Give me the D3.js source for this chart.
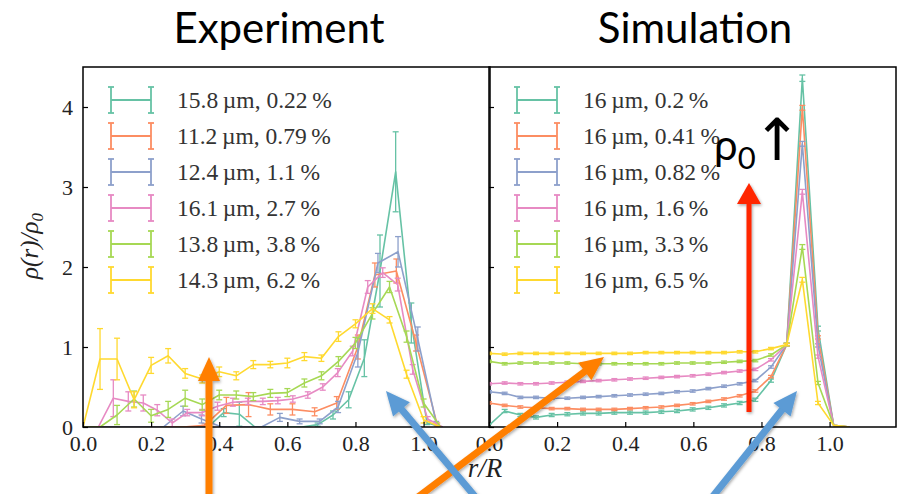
<!DOCTYPE html>
<html><head><meta charset="utf-8">
<script src="https://cdn.jsdelivr.net/npm/d3@7"></script>
<style>body{margin:0;background:#fff;} svg{display:block;}
.tnr{font-family:"Liberation Serif","Times New Roman",serif;}
</style>
</head><body>
<svg id="chart" width="899" height="494"></svg>
<script>
// Set2 colours, one per sample
const seriesColors = ["#66c2a5", "#fc8d62", "#8da0cb", "#e78ac3", "#a6d854", "#ffd92f"];

const expLabels = ["15.8\u2009µm, 0.22\u2009%", "11.2\u2009µm, 0.79\u2009%", "12.4\u2009µm, 1.1\u2009%",
                   "16.1\u2009µm, 2.7\u2009%", "13.8\u2009µm, 3.8\u2009%", "14.3\u2009µm, 6.2\u2009%"];
const simLabels = ["16\u2009µm, 0.2\u2009%", "16\u2009µm, 0.41\u2009%", "16\u2009µm, 0.82\u2009%",
                   "16\u2009µm, 1.6\u2009%", "16\u2009µm, 3.3\u2009%", "16\u2009µm, 6.5\u2009%"];
const xTicks = [0.0, 0.2, 0.4, 0.6, 0.8, 1.0];
const yTicks = [0, 1, 2, 3, 4];

// ---- Experiment: radial density profiles rho(r)/rho0 with error bars ----
const expTealR = [0, 0.046, 0.092, 0.138, 0.184, 0.23, 0.275, 0.321, 0.367, 0.413, 0.459, 0.505, 0.551, 0.597, 0.643, 0.689, 0.734, 0.78, 0.826, 0.872, 0.918, 0.964, 1.01, 1.056];
const expTealV = [0, 0, 0, 0, 0, 0, 0, 0, 0, 0.18, 0.16, 0, 0, 0, 0, 0.03, 0.15, 0.34, 0.86, 1.95, 3.19, 1.3, 0.05, 0];
const expTealE = [0, 0, 0, 0, 0, 0, 0, 0, 0, 0.05, 0.15, 0, 0, 0, 0, 0.02, 0.05, 0.1, 0.23, 0.45, 0.5, 0.25, 0.02, 0];

const expOrangeR = [0, 0.1, 0.165, 0.23, 0.295, 0.357, 0.421, 0.486, 0.55, 0.615, 0.68, 0.745, 0.807, 0.857, 0.92, 0.978, 1.04];
const expOrangeV = [0, 0, 0, 0, 0, 0.02, 0.27, 0.28, 0.22, 0.22, 0.19, 0.3, 1.0, 1.9, 1.95, 1.05, 0.03];
const expOrangeE = [0, 0, 0, 0, 0, 0.02, 0.1, 0.15, 0.07, 0.07, 0.05, 0.08, 0.15, 0.15, 0.15, 0.1, 0.02];

const expBlueR = [0, 0.059, 0.118, 0.177, 0.236, 0.294, 0.348, 0.407, 0.465, 0.524, 0.578, 0.636, 0.695, 0.749, 0.807, 0.866, 0.925, 0.983, 1.037];
const expBlueV = [0, 0, 0, 0, 0, 0.2, 0.1, 0, 0, 0, 0.12, 0.07, 0.07, 0.25, 0.93, 2.05, 2.19, 1.1, 0.05];
const expBlueE = [0, 0, 0, 0, 0, 0.06, 0.05, 0, 0, 0, 0.05, 0.03, 0.03, 0.07, 0.18, 0.12, 0.19, 0.15, 0.02];

const expPinkR = [0, 0.045, 0.089, 0.133, 0.177, 0.218, 0.262, 0.306, 0.35, 0.395, 0.44, 0.484, 0.528, 0.572, 0.616, 0.66, 0.704, 0.748, 0.792, 0.836, 0.88, 0.924, 0.968, 1.012, 1.056];
const expPinkV = [0, 0, 0.36, 0.32, 0.3, 0.21, 0.05, 0.18, 0.18, 0.26, 0.31, 0.32, 0.32, 0.33, 0.35, 0.4, 0.5, 0.68, 0.95, 1.75, 1.93, 1.78, 0.72, 0.1, 0];
const expPinkE = [0, 0, 0.23, 0.12, 0.1, 0.07, 0.05, 0.04, 0.04, 0.05, 0.05, 0.04, 0.04, 0.04, 0.04, 0.04, 0.04, 0.05, 0.06, 0.08, 0.06, 0.08, 0.06, 0.03, 0];

const expGreenR = [0, 0.05, 0.10, 0.15, 0.20, 0.25, 0.30, 0.35, 0.40, 0.45, 0.50, 0.55, 0.60, 0.65, 0.70, 0.75, 0.80, 0.85, 0.90, 0.95, 1.00, 1.05];
const expGreenV = [0, 0, 0.15, 0.35, 0.14, 0.22, 0.36, 0.28, 0.4, 0.4, 0.38, 0.42, 0.43, 0.55, 0.64, 0.82, 1.05, 1.42, 1.75, 1.13, 0.3, 0];
const expGreenE = [0, 0, 0.12, 0.1, 0.08, 0.1, 0.1, 0.07, 0.06, 0.05, 0.05, 0.05, 0.05, 0.05, 0.05, 0.06, 0.07, 0.07, 0.07, 0.07, 0.05, 0];

const expYellowR = [0, 0.05, 0.10, 0.15, 0.20, 0.25, 0.30, 0.35, 0.40, 0.45, 0.50, 0.55, 0.60, 0.65, 0.70, 0.75, 0.80, 0.85, 0.90, 0.95, 1.00, 1.05];
const expYellowV = [0, 0.85, 0.85, 0.34, 0.77, 0.89, 0.67, 0.6, 0.69, 0.64, 0.78, 0.78, 0.8, 0.88, 0.86, 1.13, 1.29, 1.48, 1.34, 0.66, 0.09, 0];
const expYellowE = [0, 0.38, 0.26, 0.1, 0.1, 0.09, 0.06, 0.05, 0.06, 0.05, 0.05, 0.04, 0.06, 0.05, 0.04, 0.06, 0.05, 0.06, 0.04, 0.05, 0.04, 0];

// ---- Simulation: same radial bins for every run ----
const simR = [0, 0.046, 0.092, 0.138, 0.184, 0.23, 0.276, 0.322, 0.368, 0.414, 0.46, 0.506, 0.552, 0.598, 0.644, 0.69, 0.736, 0.782, 0.828, 0.874, 0.92, 0.966, 1.012, 1.058];
const simTealV   = [0.02, 0.2, 0.15, 0.12, 0.15, 0.16, 0.17, 0.17, 0.18, 0.18, 0.18, 0.19, 0.2, 0.22, 0.24, 0.27, 0.3, 0.34, 0.58, 1.03, 4.36, 1.23, 0.02, 0];
const simOrangeV = [0.3, 0.27, 0.25, 0.24, 0.23, 0.23, 0.22, 0.22, 0.22, 0.23, 0.24, 0.25, 0.27, 0.29, 0.32, 0.35, 0.39, 0.45, 0.63, 1.03, 3.99, 1.12, 0.02, 0];
const simBlueV   = [0.44, 0.42, 0.37, 0.37, 0.36, 0.36, 0.37, 0.38, 0.39, 0.4, 0.41, 0.42, 0.44, 0.45, 0.48, 0.51, 0.54, 0.58, 0.75, 1.03, 3.54, 1.02, 0.02, 0];
const simPinkV   = [0.54, 0.55, 0.54, 0.54, 0.55, 0.56, 0.57, 0.58, 0.59, 0.6, 0.61, 0.62, 0.63, 0.64, 0.66, 0.68, 0.7, 0.72, 0.84, 1.03, 2.94, 0.88, 0.02, 0];
const simGreenV  = [0.82, 0.79, 0.8, 0.8, 0.8, 0.8, 0.79, 0.79, 0.79, 0.79, 0.79, 0.79, 0.8, 0.8, 0.8, 0.81, 0.82, 0.83, 0.9, 1.03, 2.25, 0.55, 0.02, 0];
const simYellowV = [0.92, 0.91, 0.92, 0.92, 0.92, 0.92, 0.92, 0.92, 0.92, 0.92, 0.93, 0.93, 0.93, 0.93, 0.93, 0.93, 0.94, 0.94, 0.98, 1.03, 1.84, 0.3, 0.02, 0];
const simTealE   = [0.02, 0.02, 0.02, 0.02, 0.02, 0.02, 0.02, 0.02, 0.02, 0.02, 0.02, 0.02, 0.02, 0.02, 0.02, 0.02, 0.02, 0.02, 0.02, 0.02, 0.04, 0.03, 0, 0];
const simOtherE  = [0.015, 0.015, 0.015, 0.015, 0.015, 0.015, 0.015, 0.015, 0.015, 0.015, 0.015, 0.015, 0.015, 0.015, 0.015, 0.015, 0.015, 0.015, 0.015, 0.015, 0.03, 0.02, 0, 0];

const expSeries = [
  {r: expTealR, v: expTealV, e: expTealE},
  {r: expOrangeR, v: expOrangeV, e: expOrangeE},
  {r: expBlueR, v: expBlueV, e: expBlueE},
  {r: expPinkR, v: expPinkV, e: expPinkE},
  {r: expGreenR, v: expGreenV, e: expGreenE},
  {r: expYellowR, v: expYellowV, e: expYellowE}
];
const simSeries = [
  {r: simR, v: simTealV, e: simTealE},
  {r: simR, v: simOrangeV, e: simOtherE},
  {r: simR, v: simBlueV, e: simOtherE},
  {r: simR, v: simPinkV, e: simOtherE},
  {r: simR, v: simGreenV, e: simOtherE},
  {r: simR, v: simYellowV, e: simOtherE}
];

const svg = d3.select("#chart");
const plotTop = 67, plotBottom = 427, pw = 407;
const y = d3.scaleLinear().domain([0, 4.5]).range([plotBottom, plotTop]);

const defs = svg.append("defs");
const shadow = defs.append("filter").attr("id", "shadow")
  .attr("x", "-50%").attr("y", "-50%").attr("width", "200%").attr("height", "200%");
shadow.append("feDropShadow").attr("dx", 1).attr("dy", 1.5).attr("stdDeviation", 1.6)
  .attr("flood-color", "#000").attr("flood-opacity", 0.35);

const panels = [
  {x0: 83, series: expSeries, labels: expLabels, title: "Experiment", titleX: 279, yLabels: true},
  {x0: 489, series: simSeries, labels: simLabels, title: "Simulation", titleX: 695, yLabels: false}
];

panels.forEach((p, pi) => {
  const x = d3.scaleLinear().domain([0, 1.195]).range([p.x0, p.x0 + pw]);
  const clipId = "clip" + pi;
  defs.append("clipPath").attr("id", clipId).append("rect")
    .attr("x", p.x0).attr("y", plotTop).attr("width", pw).attr("height", plotBottom - plotTop);

  const g = svg.append("g").attr("clip-path", `url(#${clipId})`);
  p.series.forEach((s, k) => {
    const pts = s.r.map((r, i) => ({r, v: s.v[i], e: s.e[i]}));
    const sg = g.append("g").attr("stroke", seriesColors[k]).attr("fill", "none")
      .attr("stroke-width", 1.6);
    sg.append("path").attr("d", d3.line().x(d => x(d.r)).y(d => y(d.v))(pts))
      .attr("stroke-linejoin", "round");
    const eb = pts.filter(d => d.e > 0);
    sg.selectAll("line.bar").data(eb).join("line").attr("class", "bar")
      .attr("x1", d => x(d.r)).attr("x2", d => x(d.r))
      .attr("y1", d => y(d.v - d.e)).attr("y2", d => y(d.v + d.e)).attr("stroke-width", 1.3);
    ["lo", "hi"].forEach(side => {
      sg.selectAll("line.cap" + side).data(eb).join("line").attr("class", "cap" + side)
        .attr("x1", d => x(d.r) - 3).attr("x2", d => x(d.r) + 3)
        .attr("y1", d => y(side === "lo" ? d.v - d.e : d.v + d.e))
        .attr("y2", d => y(side === "lo" ? d.v - d.e : d.v + d.e))
        .attr("stroke-width", 1.3);
    });
  });

  // axes with inward ticks
  const xa = svg.append("g").attr("transform", `translate(0,${plotBottom})`)
    .call(d3.axisBottom(x).tickValues(xTicks).tickFormat(d3.format(".1f")).tickSize(-5).tickPadding(8));
  const ya = svg.append("g").attr("transform", `translate(${p.x0},0)`)
    .call(d3.axisLeft(y).tickValues(yTicks).tickFormat(p.yLabels ? d3.format("d") : () => "").tickSize(-5).tickPadding(10));
  [xa, ya].forEach(a => {
    a.attr("font-family", null).attr("font-size", null);
    a.select(".domain").remove();
    a.selectAll(".tick line").attr("stroke", "#000").attr("stroke-width", 1.2);
    a.selectAll(".tick text").attr("class", "tnr").style("font-size", "22px").attr("fill", "#222");
  });

  svg.append("rect").attr("x", p.x0).attr("y", plotTop).attr("width", pw).attr("height", plotBottom - plotTop)
    .attr("fill", "none").attr("stroke", "#000").attr("stroke-width", 1.5);

  // legend
  const lg = svg.append("g");
  p.labels.forEach((lab, k) => {
    const ly = 100 + k * 36;
    const hx0 = p.x0 + 28, hx1 = p.x0 + 68;
    const hg = lg.append("g").attr("stroke", seriesColors[k]).attr("stroke-width", 1.8);
    hg.append("line").attr("x1", hx0).attr("x2", hx1).attr("y1", ly).attr("y2", ly);
    [hx0, hx1].forEach(hx => {
      hg.append("line").attr("x1", hx).attr("x2", hx).attr("y1", ly - 13).attr("y2", ly + 13);
      hg.append("line").attr("x1", hx - 3).attr("x2", hx + 3).attr("y1", ly - 13).attr("y2", ly - 13);
      hg.append("line").attr("x1", hx - 3).attr("x2", hx + 3).attr("y1", ly + 13).attr("y2", ly + 13);
    });
    lg.append("text").attr("class", "tnr").attr("x", p.x0 + 94).attr("y", ly + 8)
      .style("font-size", "23.5px").attr("fill", "#333").text(lab);
  });

  svg.append("text").attr("x", p.titleX).attr("y", 43).attr("text-anchor", "middle")
    .style("font-family", "Lato, 'Open Sans', sans-serif").style("font-size", "42px").attr("fill", "#000")
    .text(p.title);
});

// axis titles
svg.append("text").attr("class", "tnr").attr("transform", "translate(38,246) rotate(-90)").attr("text-anchor", "middle")
  .style("font-size", "25px").style("font-style", "italic").attr("fill", "#222")
  .text("ρ(r)/ρ").append("tspan").style("font-size", "17px").attr("dy", 5).text("0");
svg.append("text").attr("class", "tnr").attr("x", 485).attr("y", 477).attr("text-anchor", "middle")
  .style("font-size", "27px").style("font-style", "italic").attr("fill", "#222")
  .text("r/R");

// annotation arrows
const arrows = [
  {x1: 209, y1: 500, x2: 209, y2: 357, color: "#ff7f00", w: 7, hw: 22, hl: 24},
  {x1: 414, y1: 500, x2: 604, y2: 357, color: "#ff7f00", w: 7, hw: 22, hl: 24},
  {x1: 478, y1: 500, x2: 386, y2: 391, color: "#5b9bd5", w: 7, hw: 22, hl: 24},
  {x1: 710, y1: 500, x2: 797, y2: 391, color: "#5b9bd5", w: 7, hw: 22, hl: 24},
  {x1: 749, y1: 412, x2: 749, y2: 183, color: "#ff2600", w: 5, hw: 24, hl: 21}
];
const ag = svg.append("g").attr("filter", "url(#shadow)");
arrows.forEach(a => {
  const dx = a.x2 - a.x1, dy = a.y2 - a.y1, len = Math.hypot(dx, dy);
  const ux = dx / len, uy = dy / len, nx = -uy, ny = ux;
  const bx = a.x2 - ux * a.hl, by = a.y2 - uy * a.hl;
  ag.append("line").attr("x1", a.x1).attr("y1", a.y1).attr("x2", bx + ux * 2).attr("y2", by + uy * 2)
    .attr("stroke", a.color).attr("stroke-width", a.w);
  ag.append("path").attr("d", `M${a.x2},${a.y2}L${bx + nx * a.hw / 2},${by + ny * a.hw / 2}L${bx - nx * a.hw / 2},${by - ny * a.hw / 2}Z`)
    .attr("fill", a.color);
});

// rho0 note
const note = svg.append("text").attr("x", 714).attr("y", 160)
  .style("font-family", "Lato, 'Open Sans', sans-serif").style("font-size", "42px").attr("fill", "#000");
note.append("tspan").text("ρ");
note.append("tspan").style("font-size", "31px").attr("dy", 9).text("0");
svg.append("text").attr("x", 777).attr("y", 160).attr("text-anchor", "middle")
  .style("font-family", "'DejaVu Sans', sans-serif").style("font-size", "58px").attr("fill", "#000").text("↑");
</script>
</body></html>
